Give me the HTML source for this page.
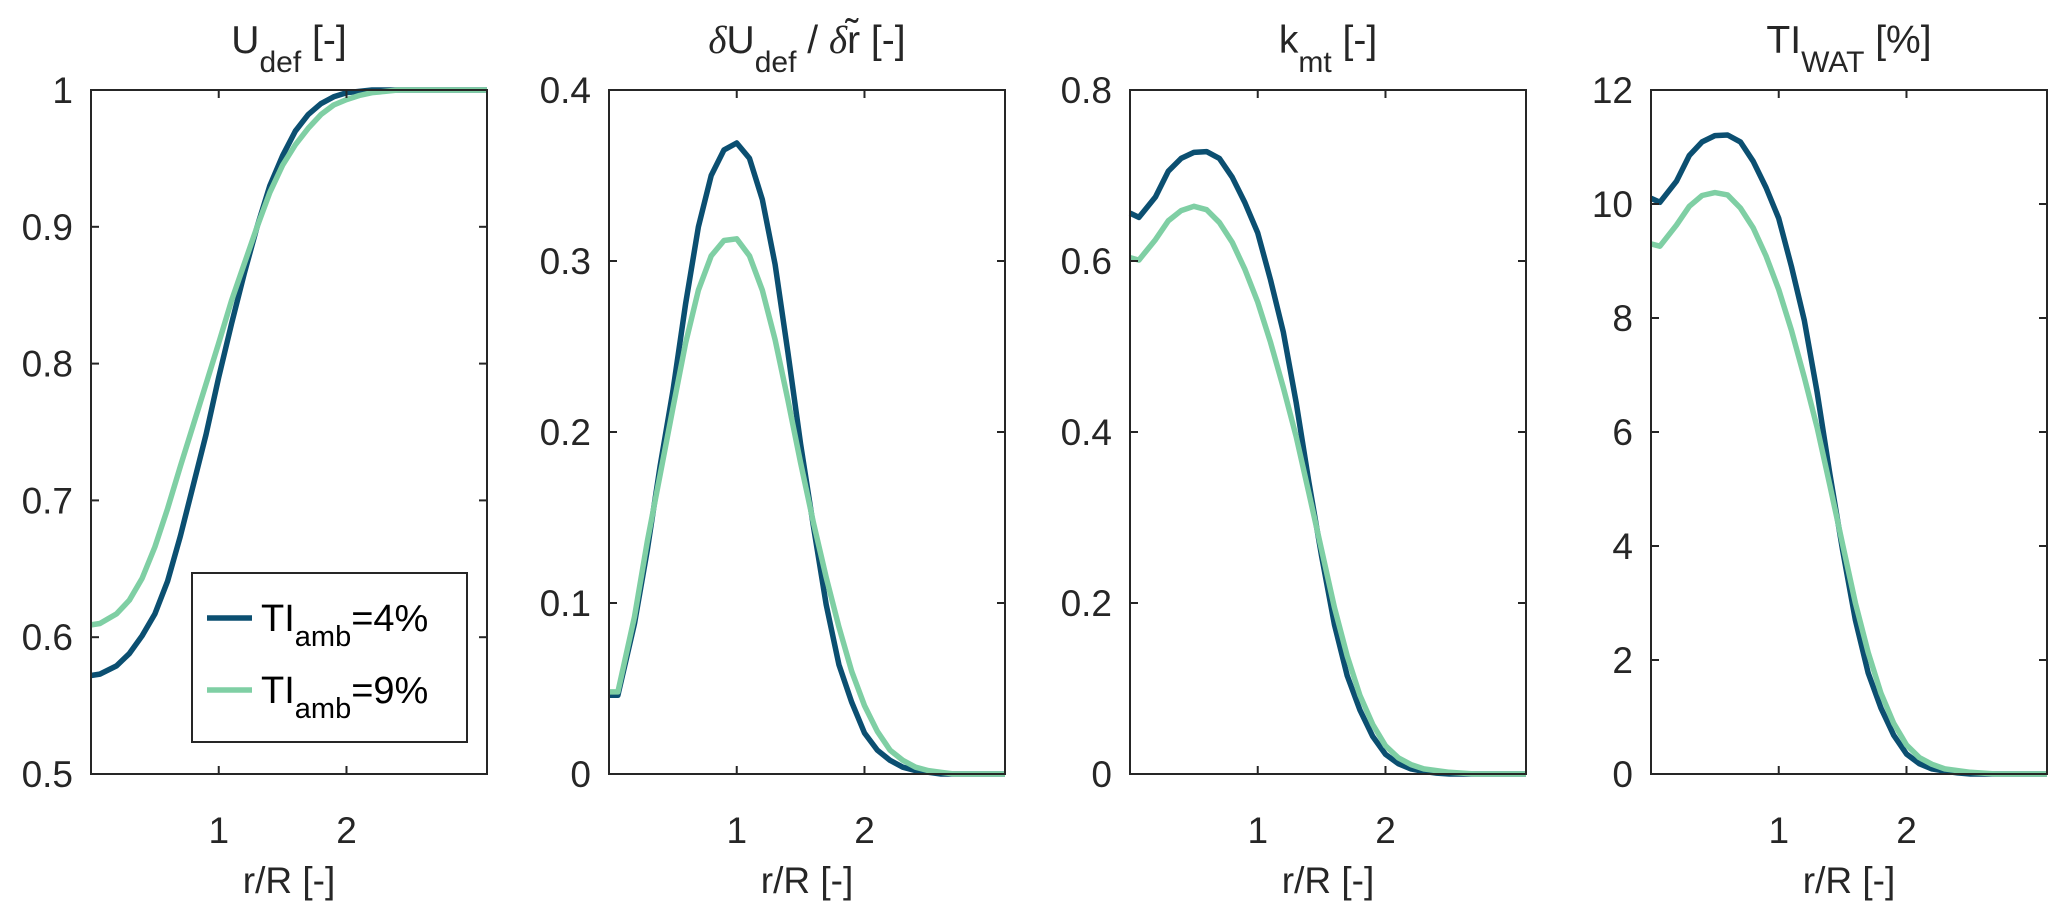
<!DOCTYPE html>
<html><head><meta charset="utf-8">
<style>
html,body{margin:0;padding:0;background:#fff;}
svg{display:block;font-family:"Liberation Sans",Arial,sans-serif;}
</style></head>
<body>
<svg id="fig" width="2067" height="923" viewBox="0 0 2067 923" xmlns="http://www.w3.org/2000/svg"></svg>
<script>
// ---- data ----
const rGrid = [0,0.07,0.2,0.3,0.4,0.5,0.6,0.7,0.8,0.9,1.0,1.1,1.2,1.3,1.4,1.5,1.6,1.7,1.8,1.9,2.0,2.1,2.2,2.3,2.4,2.5,2.6,2.7,2.8,2.9,3.0,3.1];
const seriesNames = ["TI_amb=4%","TI_amb=9%"];
const udefTI4 = [0.572,0.573,0.579,0.588,0.601,0.617,0.641,0.674,0.711,0.748,0.790,0.829,0.866,0.900,0.930,0.952,0.970,0.982,0.990,0.995,0.998,0.999,1,1,1,1,1,1,1,1,1,1];
const udefTI9 = [0.609,0.610,0.617,0.627,0.643,0.666,0.694,0.725,0.755,0.785,0.815,0.846,0.873,0.900,0.925,0.945,0.960,0.972,0.982,0.989,0.993,0.996,0.998,0.999,1,1,1,1,1,1,1,1];
const dudrTI4 = [0.046,0.046,0.088,0.131,0.180,0.224,0.275,0.320,0.350,0.365,0.369,0.360,0.336,0.298,0.247,0.193,0.145,0.099,0.064,0.042,0.024,0.014,0.008,0.004,0.002,0.001,0,0,0,0,0,0];
const dudrTI9 = [0.048,0.048,0.092,0.136,0.175,0.214,0.252,0.283,0.303,0.312,0.313,0.303,0.283,0.254,0.219,0.182,0.147,0.115,0.086,0.060,0.040,0.025,0.014,0.008,0.004,0.002,0.001,0,0,0,0,0];
const kmtTI4 = [0.656,0.651,0.675,0.705,0.720,0.727,0.728,0.720,0.698,0.668,0.633,0.578,0.517,0.435,0.342,0.255,0.175,0.115,0.075,0.044,0.023,0.012,0.006,0.003,0.001,0,0,0,0,0,0,0];
const kmtTI9 = [0.604,0.601,0.625,0.647,0.659,0.664,0.660,0.645,0.622,0.590,0.552,0.505,0.452,0.395,0.329,0.262,0.195,0.138,0.092,0.058,0.033,0.019,0.011,0.006,0.004,0.002,0.001,0,0,0,0,0];
const tiwatTI4 = [10.10,10.03,10.40,10.85,11.09,11.20,11.21,11.09,10.75,10.29,9.75,8.90,7.96,6.70,5.27,3.93,2.70,1.77,1.16,0.68,0.35,0.18,0.09,0.05,0.02,0,0,0,0,0,0,0];
const tiwatTI9 = [9.30,9.26,9.63,9.96,10.15,10.20,10.16,9.93,9.58,9.09,8.50,7.78,6.96,6.08,5.07,4.03,3.00,2.13,1.42,0.89,0.51,0.29,0.17,0.09,0.06,0.03,0.015,0,0,0,0,0];
const yTicks1 = [0.5,0.6,0.7,0.8,0.9,1];
const yTickLabels1 = ["0.5","0.6","0.7","0.8","0.9","1"];
const yTicks2 = [0,0.1,0.2,0.3,0.4];
const yTickLabels2 = ["0","0.1","0.2","0.3","0.4"];
const yTicks3 = [0,0.2,0.4,0.6,0.8];
const yTickLabels3 = ["0","0.2","0.4","0.6","0.8"];
const yTicks4 = [0,2,4,6,8,10,12];
const yTickLabels4 = ["0","2","4","6","8","10","12"];
const xTicks = [1,2];
const xTickLabels = ["1","2"];

// ---- layout ----
const NS = "http://www.w3.org/2000/svg";
const svg = document.getElementById('fig');
const TOP = 90, BOT = 774, W = 396;
const DARK = "#0b4f71", LIGHT = "#7fcfa4", AX = "#262626";
const panels = [
  {left:91, yMin:0.5, yMax:1, ticks:yTicks1, labels:yTickLabels1, s1:udefTI4, s2:udefTI9, key:"udef"},
  {left:609, yMin:0, yMax:0.4, ticks:yTicks2, labels:yTickLabels2, s1:dudrTI4, s2:dudrTI9, key:"dudr"},
  {left:1130, yMin:0, yMax:0.8, ticks:yTicks3, labels:yTickLabels3, s1:kmtTI4, s2:kmtTI9, key:"kmt"},
  {left:1651, yMin:0, yMax:12, ticks:yTicks4, labels:yTickLabels4, s1:tiwatTI4, s2:tiwatTI9, key:"tiwat"}
];
function mk(tag, attrs, parent){
  const e = document.createElementNS(NS, tag);
  for (const k in attrs) e.setAttribute(k, attrs[k]);
  (parent||svg).appendChild(e);
  return e;
}
panels.forEach(function(p, i){
  const xs = v => p.left + v/3.1*W;
  const ys = v => BOT - (v-p.yMin)/(p.yMax-p.yMin)*(BOT-TOP);
  const g = mk('g', {});
  
  
  [[p.s1, DARK, 'tiamb-4'], [p.s2, LIGHT, 'tiamb-9']].forEach(function(s){
    let d = '';
    rGrid.forEach(function(r, j){ d += (j? 'L':'M') + xs(r).toFixed(1) + ',' + ys(s[0][j]).toFixed(1); });
    const path = mk('path', {d:d, fill:'none', stroke:s[1], 'stroke-width':5.5, 'stroke-linejoin':'round'}, g);
    
    
  });
  const box = mk('rect', {x:p.left, y:TOP, width:W, height:BOT-TOP, fill:'none', stroke:AX, 'stroke-width':2}, g);
  
  
  p.ticks.forEach(function(t, j){
    const y = ys(t);
    mk('line', {x1:p.left, x2:p.left+8, y1:y, y2:y, stroke:AX, 'stroke-width':2}, g);
    mk('line', {x1:p.left+W, x2:p.left+W-8, y1:y, y2:y, stroke:AX, 'stroke-width':2}, g);
    const tx = mk('text', {x:p.left-18, y:y+13, 'text-anchor':'end', 'font-size':37, fill:AX}, g);
    
    
    tx.textContent = p.labels[j];
  });
  xTicks.forEach(function(t, j){
    const x = xs(t);
    mk('line', {x1:x, x2:x, y1:BOT, y2:BOT-8, stroke:AX, 'stroke-width':2}, g);
    mk('line', {x1:x, x2:x, y1:TOP, y2:TOP+8, stroke:AX, 'stroke-width':2}, g);
    const tx = mk('text', {x:x, y:843, 'text-anchor':'middle', 'font-size':37, fill:AX}, g);
    
    
    tx.textContent = xTickLabels[j];
  });
  const xl = mk('text', {x:p.left+W/2, y:893, 'text-anchor':'middle', 'font-size':37, fill:AX}, g);
  
  
  xl.textContent = 'r/R [-]';
});
</script>
<div style="position:absolute;left:0;top:0;width:2067px;height:923px;pointer-events:none;">
<svg width="2067" height="923" style="position:absolute;left:0;top:0;font-family:'Liberation Sans',Arial,sans-serif;" fill="#262626">
  <text x="289" y="53" text-anchor="middle" font-size="39">U<tspan font-size="30" dy="19">def</tspan><tspan dy="-19"> [-]</tspan></text>
  <text x="807" y="53" text-anchor="middle" font-size="39"><tspan font-family="'Liberation Serif',serif" font-style="italic">δ</tspan>U<tspan font-size="30" dy="19">def</tspan><tspan dy="-19"> / </tspan><tspan font-family="'Liberation Serif',serif" font-style="italic">δ</tspan>r̃ [-]</text>
  <text x="1328" y="53" text-anchor="middle" font-size="39">k<tspan font-size="30" dy="19">mt</tspan><tspan dy="-19"> [-]</tspan></text>
  <text x="1849" y="53" text-anchor="middle" font-size="39">TI<tspan font-size="30" dy="19">WAT</tspan><tspan dy="-19"> [%]</tspan></text>
  <g>
    <rect x="192" y="573" width="275" height="169" fill="#fff" stroke="#262626" stroke-width="2"/>
    <line x1="207" x2="252" y1="618" y2="618" stroke="#0b4f71" stroke-width="5.5"/>
    <text x="261" y="631" font-size="38" fill="#000">TI<tspan font-size="29" dy="15">amb</tspan><tspan dy="-15">=4%</tspan></text>
    <line x1="207" x2="252" y1="690" y2="690" stroke="#7fcfa4" stroke-width="5.5"/>
    <text x="261" y="703" font-size="38" fill="#000">TI<tspan font-size="29" dy="15">amb</tspan><tspan dy="-15">=9%</tspan></text>
  </g>
</svg>
</div>
</body></html>
